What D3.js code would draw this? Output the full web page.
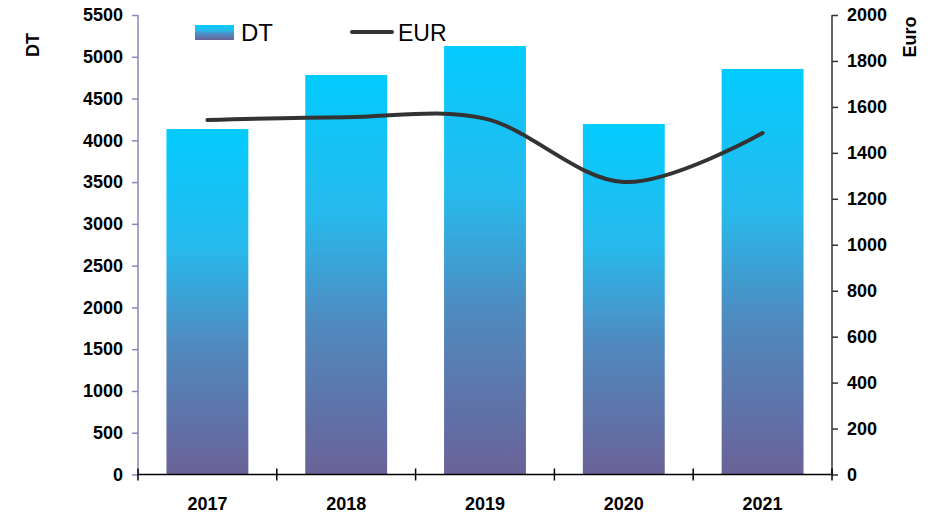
<!DOCTYPE html>
<html>
<head>
<meta charset="utf-8">
<script src="https://cdn.jsdelivr.net/npm/d3@7"></script>
<style>
  body { margin: 0; background: #fff; }
  svg { font-family: "Liberation Sans", Arial, sans-serif; }
</style>
</head>
<body>
<svg id="chart"></svg>
<script>
// data
var years = ["2017", "2018", "2019", "2020", "2021"];
var dtValues = [4135, 4782, 5129, 4195, 4854];
var eurValues = [1543, 1555, 1549, 1273, 1486];
var dtTicks = [0, 500, 1000, 1500, 2000, 2500, 3000, 3500, 4000, 4500, 5000, 5500];
var eurTicks = [0, 200, 400, 600, 800, 1000, 1200, 1400, 1600, 1800, 2000];

var width = 933, height = 513;
var margin = { top: 15, right: 101, bottom: 38.5, left: 138 };

var svg = d3.select("#chart").attr("width", width).attr("height", height);

var defs = svg.append("defs");
var grad = defs.append("linearGradient")
  .attr("id", "barGrad")
  .attr("x1", 0).attr("y1", 0).attr("x2", 0).attr("y2", 1);
grad.append("stop").attr("offset", "0%").attr("stop-color", "#03cbfe");
grad.append("stop").attr("offset", "35%").attr("stop-color", "#28b9ec");
grad.append("stop").attr("offset", "62%").attr("stop-color", "#4f8abf");
grad.append("stop").attr("offset", "100%").attr("stop-color", "#6a6298");

var x = d3.scaleBand()
  .domain(years)
  .range([margin.left, width - margin.right])
  .paddingInner(0.41)
  .paddingOuter(0.205);

var yL = d3.scaleLinear().domain([0, 5500]).range([height - margin.bottom, margin.top]);
var yR = d3.scaleLinear().domain([0, 2000]).range([height - margin.bottom, margin.top]);

// bars
svg.selectAll("rect.bar")
  .data(dtValues)
  .enter()
  .append("rect")
  .attr("class", "bar")
  .attr("x", function (d, i) { return x(years[i]); })
  .attr("width", x.bandwidth())
  .attr("y", function (d) { return yL(d); })
  .attr("height", function (d) { return yL(0) - yL(d); })
  .attr("fill", "url(#barGrad)");

// left axis
var leftAxis = svg.append("g")
  .attr("transform", "translate(" + margin.left + ",0)")
  .call(d3.axisLeft(yL).tickValues(dtTicks).tickFormat(d3.format("d")).tickSize(6).tickPadding(9));
leftAxis.select(".domain").attr("stroke", "#8a88b8").attr("stroke-width", 1.5).attr("d", "M0," + yL(5500) + "V" + yL(0));
leftAxis.selectAll(".tick line").attr("stroke", "#8a88b8").attr("stroke-width", 1.5);
leftAxis.selectAll("text").attr("fill", "#000").style("font-size", "18px").style("font-weight", "bold");

// right axis
var rightAxis = svg.append("g")
  .attr("transform", "translate(" + (width - margin.right) + ",0)")
  .call(d3.axisRight(yR).tickValues(eurTicks).tickFormat(d3.format("d")).tickSize(6).tickPadding(9));
rightAxis.select(".domain").attr("stroke", "#333").attr("stroke-width", 1.5).attr("d", "M0," + yR(2000) + "V" + yR(0));
rightAxis.selectAll(".tick line").attr("stroke", "#333").attr("stroke-width", 1.5);
rightAxis.selectAll("text").attr("fill", "#000").style("font-size", "18px").style("font-weight", "bold");

// bottom axis
var step = x.step();
var boundaries = d3.range(years.length + 1).map(function (i) { return margin.left + i * step; });
var bottom = svg.append("g");
bottom.append("line")
  .attr("x1", margin.left).attr("x2", width - margin.right)
  .attr("y1", yL(0)).attr("y2", yL(0))
  .attr("stroke", "#000").attr("stroke-width", 1.5);
bottom.selectAll("line.tk")
  .data(boundaries)
  .enter()
  .append("line")
  .attr("class", "tk")
  .attr("x1", function (d) { return d; }).attr("x2", function (d) { return d; })
  .attr("y1", yL(0) - 6).attr("y2", yL(0) + 6)
  .attr("stroke", "#000").attr("stroke-width", 1.5);
bottom.selectAll("text")
  .data(years)
  .enter()
  .append("text")
  .attr("x", function (d) { return x(d) + x.bandwidth() / 2; })
  .attr("y", 510)
  .attr("text-anchor", "middle")
  .style("font-size", "18px")
  .style("font-weight", "bold")
  .text(function (d) { return d; });

// EUR line
var line = d3.line()
  .x(function (d, i) { return x(years[i]) + x.bandwidth() / 2; })
  .y(function (d) { return yR(d); })
  .curve(d3.curveCatmullRom.alpha(0));
svg.append("path")
  .datum(eurValues)
  .attr("d", line)
  .attr("fill", "none")
  .attr("stroke", "#333")
  .attr("stroke-width", 4)
  .attr("stroke-linecap", "round");

// axis titles
svg.append("text")
  .attr("transform", "translate(39,45) rotate(-90)")
  .attr("text-anchor", "middle")
  .style("font-size", "18px")
  .style("font-weight", "bold")
  .text("DT");
svg.append("text")
  .attr("transform", "translate(916,37) rotate(-90)")
  .attr("text-anchor", "middle")
  .style("font-size", "18px")
  .style("font-weight", "bold")
  .text("Euro");

// legend
var legend = svg.append("g");
legend.append("rect")
  .attr("x", 195).attr("y", 25).attr("width", 39).attr("height", 15)
  .attr("fill", "url(#barGrad)");
legend.append("text")
  .attr("x", 241).attr("y", 41)
  .style("font-size", "24px")
  .text("DT");
legend.append("line")
  .attr("x1", 352).attr("x2", 392).attr("y1", 32).attr("y2", 32)
  .attr("stroke", "#333").attr("stroke-width", 4).attr("stroke-linecap", "round");
legend.append("text")
  .attr("x", 398).attr("y", 41)
  .style("font-size", "23px")
  .text("EUR");
</script>
</body>
</html>
